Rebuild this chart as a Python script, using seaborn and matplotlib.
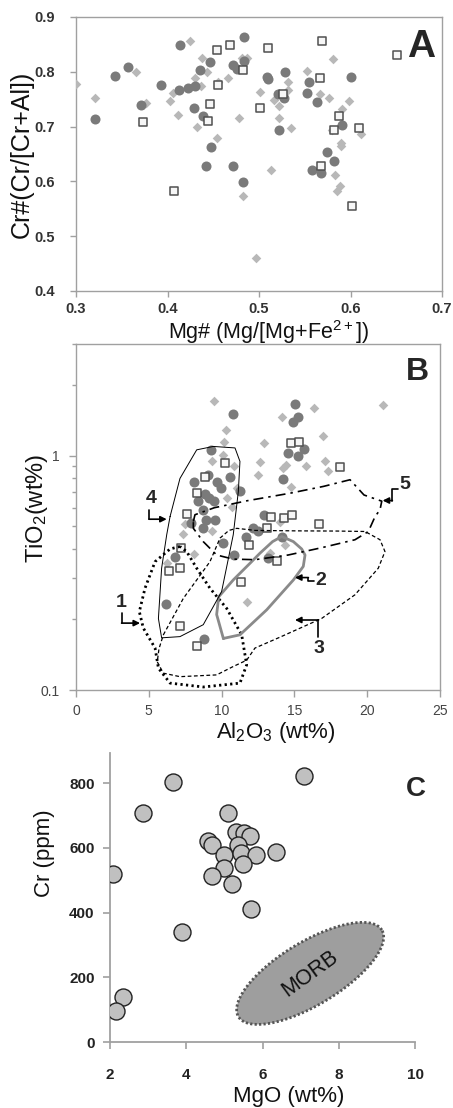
import numpy as np
import matplotlib
matplotlib.use("Agg")
import matplotlib.pyplot as plt
from matplotlib.ticker import FixedLocator, LogLocator, NullFormatter, FormatStrFormatter
import seaborn as sns

# ---------------- Panel A data: Mg# vs Cr# ----------------
a_circ_mg = [0.321, 0.343, 0.357, 0.371, 0.393, 0.414, 0.413, 0.422, 0.430, 0.429, 0.436, 0.439,
             0.446, 0.448, 0.442, 0.472, 0.472, 0.476, 0.484, 0.484, 0.483, 0.509, 0.510, 0.528,
             0.521, 0.527, 0.522, 0.555, 0.553, 0.563, 0.601, 0.591, 0.574, 0.582, 0.558, 0.568]
a_circ_cr = [0.713, 0.792, 0.808, 0.739, 0.776, 0.849, 0.767, 0.770, 0.775, 0.734, 0.804, 0.720,
             0.817, 0.662, 0.628, 0.629, 0.812, 0.806, 0.864, 0.820, 0.598, 0.791, 0.786, 0.799,
             0.759, 0.753, 0.693, 0.781, 0.761, 0.744, 0.790, 0.703, 0.653, 0.638, 0.621, 0.615]
a_sq_mg = [0.373, 0.454, 0.468, 0.455, 0.446, 0.444, 0.482, 0.407, 0.510, 0.569, 0.651, 0.501,
           0.567, 0.587, 0.582, 0.609, 0.568, 0.602, 0.526]
a_sq_cr = [0.709, 0.840, 0.848, 0.776, 0.742, 0.710, 0.803, 0.582, 0.843, 0.857, 0.831, 0.734,
           0.788, 0.720, 0.694, 0.697, 0.629, 0.556, 0.759]
a_dia_mg = [0.300, 0.321, 0.366, 0.377, 0.403, 0.406, 0.411, 0.425, 0.430, 0.438, 0.437, 0.443,
            0.432, 0.454, 0.455, 0.466, 0.478, 0.481, 0.487, 0.482, 0.497, 0.501, 0.581, 0.552,
            0.532, 0.516, 0.522, 0.532, 0.522, 0.535, 0.567, 0.577, 0.598, 0.591, 0.580, 0.611,
            0.590, 0.590, 0.513, 0.583, 0.589, 0.585]
a_dia_cr = [0.778, 0.753, 0.799, 0.743, 0.746, 0.761, 0.721, 0.857, 0.789, 0.825, 0.774, 0.800,
            0.699, 0.679, 0.782, 0.788, 0.715, 0.826, 0.826, 0.574, 0.460, 0.763, 0.823, 0.801,
            0.782, 0.749, 0.738, 0.766, 0.715, 0.697, 0.759, 0.752, 0.746, 0.732, 0.693, 0.687,
            0.670, 0.664, 0.621, 0.612, 0.591, 0.583]
a_xticks = [0.3, 0.4, 0.5, 0.6, 0.7]
a_yticks = [0.4, 0.5, 0.6, 0.7, 0.8, 0.9]

# ---------------- Panel B data: Al2O3 vs TiO2 ----------------
b_circ_al = [10.81, 9.27, 8.10, 9.04, 9.66, 9.93, 10.58, 11.26, 8.40, 8.86, 9.16, 9.50, 8.74, 8.93,
             9.55, 8.70, 7.87, 10.07, 10.85, 11.68, 12.13, 6.82, 6.18, 8.79, 15.04, 15.27, 14.93,
             14.58, 15.22, 15.68, 14.24, 12.93, 12.48, 14.13, 13.21]
b_circ_ti = [1.51, 1.06, 0.776, 0.829, 0.776, 0.728, 0.808, 0.704, 0.638, 0.686, 0.659, 0.638, 0.588,
             0.533, 0.533, 0.494, 0.516, 0.424, 0.377, 0.448, 0.494, 0.368, 0.232, 0.165, 1.67, 1.46,
             1.39, 1.03, 1.00, 1.07, 0.797, 0.560, 0.475, 0.449, 0.365]
b_sq_al = [14.77, 15.34, 18.13, 13.39, 14.31, 14.86, 13.10, 16.69, 13.78, 10.23, 8.86, 8.29, 7.65,
           7.21, 6.39, 7.14, 11.88, 11.31, 7.14, 8.29]
b_sq_ti = [1.13, 1.15, 0.895, 0.55, 0.545, 0.56, 0.494, 0.51, 0.357, 0.93, 0.808, 0.693, 0.565,
           0.403, 0.323, 0.331, 0.414, 0.290, 0.188, 0.154]
b_dia_al = [16.37, 14.13, 21.06, 16.99, 12.93, 12.64, 12.52, 14.19, 14.40, 15.80, 17.10, 17.29,
            14.77, 14.01, 14.35, 13.32, 9.50, 10.30, 10.16, 9.32, 10.12, 10.87, 11.04, 10.35,
            10.69, 9.32, 7.37, 8.10, 6.23, 11.72, 7.49]
b_dia_ti = [1.60, 1.47, 1.65, 1.22, 1.13, 0.936, 0.829, 0.89, 0.915, 0.906, 0.946, 0.857, 0.739,
            0.524, 0.414, 0.384, 1.72, 1.29, 1.14, 0.946, 1.01, 0.90, 0.728, 0.659, 0.607, 0.475,
            0.463, 0.380, 0.350, 0.237, 0.51]
b_xticks = [0, 5, 10, 15, 20, 25]
b_yticks = [0.1, 1]

# Field outlines (Al2O3, TiO2)
field1_al = [7.14, 6.46, 5.43, 4.74, 4.35, 4.62, 5.43, 5.66, 6.46, 8.74, 11.26, 11.72, 11.38, 10.35, 9.2, 8.29, 7.6, 7.14]
field1_ti = [0.41, 0.40, 0.353, 0.272, 0.216, 0.184, 0.151, 0.124, 0.107, 0.103, 0.107, 0.128, 0.172, 0.223, 0.272, 0.331, 0.39, 0.41]
field2_al = [10.12, 9.66, 9.8, 10.8, 12.0, 12.64, 13.5, 14.13, 14.93, 15.5, 15.73, 15.61, 14.93, 13.1, 11.26, 10.12]
field2_ti = [0.166, 0.21, 0.25, 0.295, 0.35, 0.384, 0.43, 0.452, 0.43, 0.40, 0.377, 0.337, 0.295, 0.22, 0.172, 0.166]
field3_al = [6.0, 7.37, 9.2, 9.89, 10.5, 11.04, 12.3, 15.0, 18.0, 19.85, 20.88, 21.22, 20.76, 19.16, 16.87, 14.0, 12.29, 11.72, 10.8, 9.66, 7.14, 6.0, 5.58, 5.7, 6.0]
field3_ti = [0.172, 0.246, 0.353, 0.445, 0.48, 0.49, 0.48, 0.478, 0.477, 0.475, 0.438, 0.39, 0.331, 0.255, 0.202, 0.168, 0.151, 0.134, 0.126, 0.116, 0.114, 0.118, 0.132, 0.15, 0.172]
field4_al = [6.46, 7.14, 8.29, 9.43, 10.92, 11.26, 11.15, 10.80, 10.0, 8.74, 7.14, 5.88, 5.66, 5.88, 6.23, 6.46]
field4_ti = [0.55, 0.80, 1.06, 1.096, 1.08, 0.946, 0.704, 0.46, 0.263, 0.19, 0.169, 0.167, 0.202, 0.331, 0.46, 0.55]
field5_al = [8.06, 8.17, 9.5, 11.72, 14.70, 17.0, 18.82, 19.78, 21.0, 20.88, 20.54, 20.08, 19.16, 16.87, 14.58, 12.29, 10.8, 9.66, 8.74, 8.06, 8.06]
field5_ti = [0.524, 0.56, 0.60, 0.642, 0.692, 0.74, 0.79, 0.68, 0.64, 0.588, 0.55, 0.475, 0.438, 0.405, 0.377, 0.36, 0.362, 0.377, 0.43, 0.49, 0.524]

field_names = ["1", "2", "3", "4", "5"]
field_label_al = [3.13, 16.82, 16.69, 5.14, 22.6]
field_label_ti = [0.237, 0.293, 0.150, 0.655, 0.755]
arrow_al = [[3.13, 3.13, 4.40], [16.37, 15.96, 15.96, 15.04], [16.64, 16.64, 15.04],
            [5.01, 5.01, 6.23], [22.14, 21.73, 21.73, 21.06]]
arrow_ti = [[0.213, 0.193, 0.193], [0.291, 0.291, 0.302, 0.302], [0.169, 0.199, 0.199],
            [0.588, 0.536, 0.536], [0.723, 0.723, 0.644, 0.644]]

# ---------------- Panel C data: MgO vs Cr ----------------
c_mgo = [3.64, 2.86, 2.09, 7.10, 5.09, 4.58, 4.67, 5.30, 5.52, 5.67, 5.35, 5.00, 5.44, 5.83, 6.36,
         5.00, 5.48, 4.67, 5.19, 5.70, 3.89, 2.33, 2.15]
c_cr = [804, 708, 519, 823, 708, 622, 608, 648, 646, 637, 608, 578, 583, 578, 588, 538, 549, 514,
        487, 410, 339, 140, 96]
c_xticks = [2, 4, 6, 8, 10]
c_yticks = [0, 200, 400, 600, 800]
morb_tip1 = (5.37, 78)
morb_tip2 = (9.13, 346)
morb_axis_ratio = 0.375

# ---------------- Styling ----------------
sns.set_theme(style="white")
plt.rcParams['font.family'] = ['Liberation Sans', 'DejaVu Sans']
plt.rcParams['mathtext.fontset'] = 'custom'
plt.rcParams['mathtext.rm'] = 'Liberation Sans'
plt.rcParams['mathtext.it'] = 'Liberation Sans:italic'
plt.rcParams['mathtext.bf'] = 'Liberation Sans:bold'

CIRC = '#7a7a7a'
DIA = '#b8b8b8'
SQE = '#505050'
SPINE = '#a0a0a0'

fig = plt.figure(figsize=(4.53, 11.08), dpi=100)
axA = fig.add_axes([76/453, 1-291/1108, 366/453, 274/1108])
axB = fig.add_axes([76/453, 1-690/1108, 364/453, 346/1108])
axC = fig.add_axes([110/453, 1-1042/1108, 305/453, 289/1108])


def three_series(ax, dx, dy, cx, cy, sx, sy):
    sns.scatterplot(x=dx, y=dy, ax=ax, marker='D', s=24, color=DIA, linewidth=0, zorder=3)
    sns.scatterplot(x=cx, y=cy, ax=ax, marker='o', s=52, color=CIRC, linewidth=0, zorder=4)
    sns.scatterplot(x=sx, y=sy, ax=ax, marker='s', s=40, color='#f6f6f6', edgecolor=SQE,
                    linewidth=1.1, zorder=5)


# ---- Panel A ----
three_series(axA, a_dia_mg, a_dia_cr, a_circ_mg, a_circ_cr, a_sq_mg, a_sq_cr)
axA.set_xlim(0.3, 0.7)
axA.set_ylim(0.4, 0.9)
axA.xaxis.set_major_locator(FixedLocator(a_xticks))
axA.yaxis.set_major_locator(FixedLocator(a_yticks))
axA.xaxis.set_major_formatter(FormatStrFormatter('%.1f'))
axA.yaxis.set_major_formatter(FormatStrFormatter('%.1f'))
for s in axA.spines.values():
    s.set_color(SPINE); s.set_linewidth(1.0); s.set_visible(True)
axA.tick_params(axis='both', which='major', bottom=True, left=True, direction='out', length=4,
                width=1, color=SPINE, labelsize=10.5, labelcolor='#333333')
axA.tick_params(axis='y', pad=11)
axA.tick_params(axis='x', pad=4)
for t in axA.get_xticklabels() + axA.get_yticklabels():
    t.set_fontweight('bold')
axA.set_xlabel('Mg# (Mg/[Mg+Fe$^{\\mathregular{2+}}$])', fontsize=15.5, color='#111111', va='center')
axA.xaxis.set_label_coords(0.525, -0.148)
axA.set_ylabel('Cr#(Cr/[Cr+Al])', fontsize=18, color='#111111', va='center')
axA.yaxis.set_label_coords(-0.148, 0.5)
axA.text(0.943, 0.89, 'A', transform=axA.transAxes, fontsize=28, fontweight='bold',
         ha='center', va='center')

# ---- Panel B ----
axB.set_yscale('log')
three_series(axB, b_dia_al, b_dia_ti, b_circ_al, b_circ_ti, b_sq_al, b_sq_ti)
axB.plot(field1_al, field1_ti, color='black', lw=2.0, ls=(0, (0.8, 1.2)), zorder=6)
axB.plot(field2_al, field2_ti, color='#8a8a8a', lw=2.0, ls='-', zorder=6)
axB.plot(field3_al, field3_ti, color='black', lw=0.9, ls=(0, (3, 2)), zorder=6)
axB.plot(field4_al, field4_ti, color='black', lw=0.7, ls='-', zorder=6)
axB.plot(field5_al, field5_ti, color='black', lw=1.2, ls=(0, (6, 3, 1.5, 3)), zorder=6)
for name, lx, ly, ax_, ay_ in zip(field_names, field_label_al, field_label_ti, arrow_al, arrow_ti):
    axB.text(lx, ly, name, fontsize=14, fontweight='bold', ha='center', va='center', zorder=7)
    axB.plot(ax_[:-1], ay_[:-1], color='black', lw=1.2, zorder=7)
    axB.annotate('', xy=(ax_[-1], ay_[-1]), xytext=(ax_[-2], ay_[-2]),
                 arrowprops=dict(arrowstyle='-|>', color='black', lw=1.2, mutation_scale=9,
                                 shrinkA=0, shrinkB=0), zorder=7)
axB.set_xlim(0, 25)
axB.set_ylim(0.1, 3)
axB.xaxis.set_major_locator(FixedLocator(b_xticks))
axB.yaxis.set_major_locator(FixedLocator(b_yticks))
axB.yaxis.set_major_formatter(FormatStrFormatter('%g'))
axB.yaxis.set_minor_locator(LogLocator(base=10, subs=np.arange(2, 10)))
axB.yaxis.set_minor_formatter(NullFormatter())
for s in axB.spines.values():
    s.set_color(SPINE); s.set_linewidth(1.0); s.set_visible(True)
axB.tick_params(axis='both', which='both', bottom=True, left=True, direction='out', width=1,
                color=SPINE, labelsize=10, labelcolor='#444444')
axB.tick_params(axis='both', which='major', length=5)
axB.tick_params(axis='y', which='minor', length=3)
axB.tick_params(axis='y', pad=7)
axB.tick_params(axis='x', pad=5)
axB.set_xlabel('Al$_{\\mathregular{2}}$O$_{\\mathregular{3}}$ (wt%)', fontsize=16, color='#111111', va='center')
axB.xaxis.set_label_coords(0.549, -0.122)
axB.set_ylabel('TiO$_{\\mathregular{2}}$(wt%)', fontsize=17, color='#111111', va='center')
axB.yaxis.set_label_coords(-0.107, 0.526)
axB.text(0.937, 0.919, 'B', transform=axB.transAxes, fontsize=23, fontweight='bold',
         ha='center', va='center')

# ---- Panel C ----
axC.set_xlim(2, 10)
axC.set_ylim(0, 893)
fig.canvas.draw()
p1 = axC.transData.transform(morb_tip1)
p2 = axC.transData.transform(morb_tip2)
cen = (p1 + p2) / 2
u = (p2 - p1) / 2
v = np.array([-u[1], u[0]]) * morb_axis_ratio
t = np.linspace(0, 2 * np.pi, 200)
ell = cen + np.outer(np.cos(t), u) + np.outer(np.sin(t), v)
ell_data = axC.transData.inverted().transform(ell)
axC.fill(ell_data[:, 0], ell_data[:, 1], facecolor='#9e9e9e', edgecolor='#555555', lw=2.0,
         ls=(0, (0.8, 0.8)), zorder=2)
cdata = axC.transData.inverted().transform(cen)
axC.text(cdata[0], cdata[1], 'MORB', rotation=36, fontsize=15.5, ha='center', va='center',
         color='#111111', rotation_mode='anchor', zorder=3)
sns.scatterplot(x=c_mgo, y=c_cr, ax=axC, marker='o', s=150, color='#c0c0c0', edgecolor='#222222',
                linewidth=1.0, zorder=4)
axC.xaxis.set_major_locator(FixedLocator(c_xticks))
axC.yaxis.set_major_locator(FixedLocator(c_yticks))
for side in ['top', 'right']:
    axC.spines[side].set_visible(False)
for side in ['left', 'bottom']:
    axC.spines[side].set_visible(True)
    axC.spines[side].set_color(SPINE)
    axC.spines[side].set_linewidth(1.3)
axC.tick_params(axis='both', which='major', bottom=True, left=True, direction='out', length=5,
                width=1.2, color=SPINE, labelsize=11, labelcolor='#222222')
axC.tick_params(axis='y', pad=6)
axC.tick_params(axis='x', pad=14)
for t_ in axC.get_xticklabels() + axC.get_yticklabels():
    t_.set_fontweight('bold')
axC.set_xlabel('MgO (wt%)', fontsize=16, color='#111111', va='center')
axC.xaxis.set_label_coords(0.587, -0.19)
axC.set_ylabel('Cr (ppm)', fontsize=16, color='#111111', va='center')
axC.yaxis.set_label_coords(-0.216, 0.654)
axC.text(1.003, 0.875, 'C', transform=axC.transAxes, fontsize=20, fontweight='bold',
         ha='center', va='center', clip_on=False)

for ax in (axA, axB, axC):
    ax.set_facecolor('none')
    ax.grid(False)

fig.savefig('out.png', dpi=100, facecolor='white')
